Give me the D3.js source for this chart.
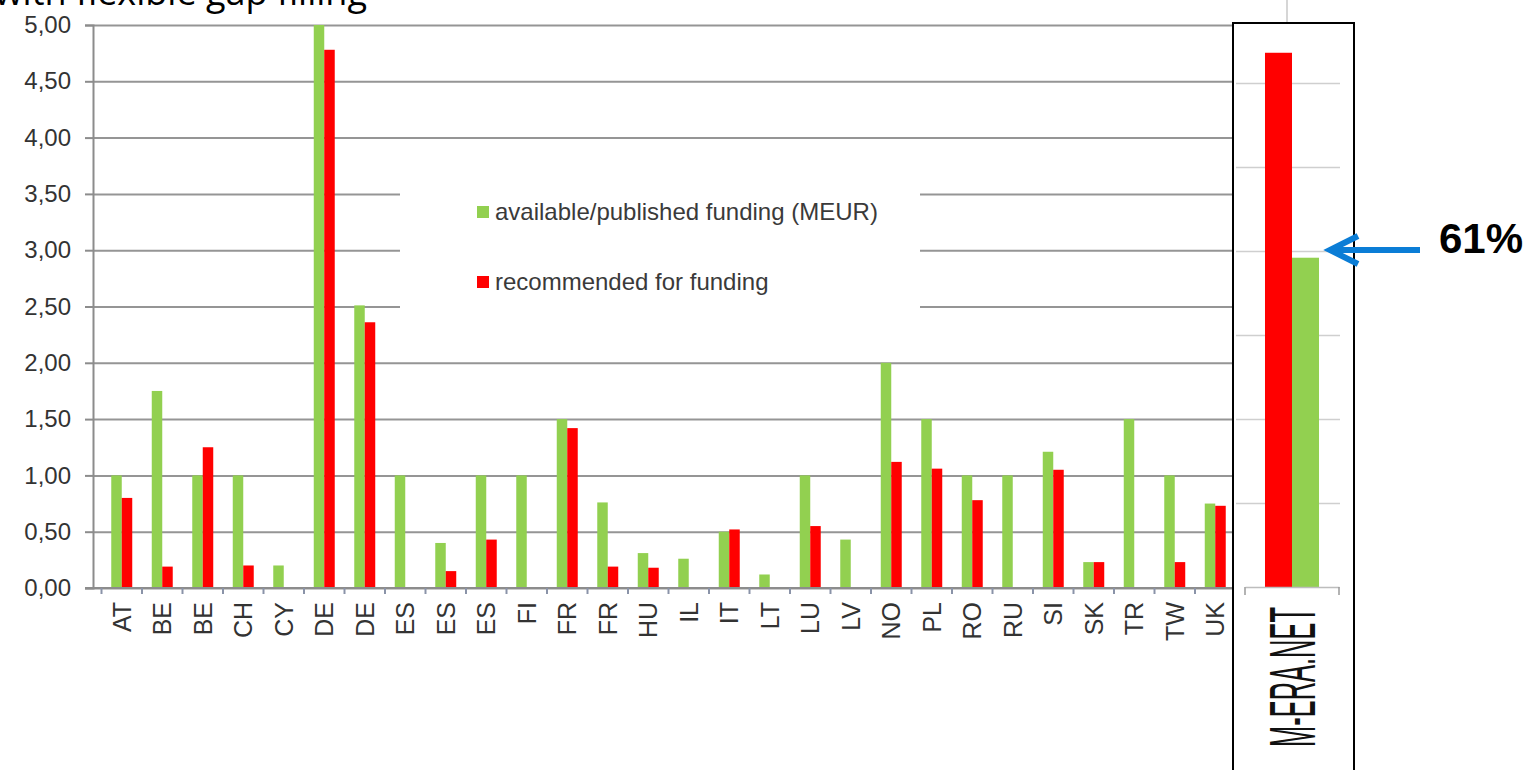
<!DOCTYPE html>
<html>
<head>
<meta charset="utf-8">
<script src="https://d3js.org/d3.v7.min.js"></script>
<style>
    body { margin: 0; background: #fff; }
    svg { display: block; }
</style>
</head>
<body>
<svg id="chart" width="1524" height="770"></svg>
<script>
// data
const countries = ['AT', 'BE', 'BE', 'CH', 'CY', 'DE', 'DE', 'ES', 'ES', 'ES', 'FI', 'FR', 'FR', 'HU',
    'IL', 'IT', 'LT', 'LU', 'LV', 'NO', 'PL', 'RO', 'RU', 'SI', 'SK', 'TR', 'TW', 'UK'];
const available = [1.00, 1.75, 1.00, 1.00, 0.20, 5.00, 2.51, 1.00, 0.40, 1.00, 1.00, 1.50, 0.76, 0.31,
    0.26, 0.50, 0.12, 1.00, 0.43, 2.00, 1.50, 1.00, 1.00, 1.21, 0.23, 1.50, 1.00, 0.75];
const recommended = [0.80, 0.19, 1.25, 0.20, 0, 4.78, 2.36, 0, 0.15, 0.43, 0, 1.42, 0.19, 0.18,
    0, 0.52, 0, 0.55, 0, 1.12, 1.06, 0.78, 0, 1.05, 0.23, 0, 0.23, 0.73];
const yTicks = [0, 0.5, 1, 1.5, 2, 2.5, 3, 3.5, 4, 4.5, 5];
const seriesNames = ['available/published funding (MEUR)', 'recommended for funding'];
const seriesColors = ['#92d050', '#ff0000'];

// M-ERA.NET totals panel (MEUR): first bar red, second green
const totalLabel = 'M-ERA.NET';
const totalValues = [31.8, 19.6];
const totalColors = ['#ff0000', '#92d050'];
const panelTicks = [5, 10, 15, 20, 25, 30];
const shareLabel = '61%';
const titleText = 'with flexible gap filling';

const svg = d3.select('#chart');
const font = "'Liberation Sans', Arial, sans-serif";
const comma = d3.formatLocale({decimal: ',', thousands: '.', grouping: [3], currency: ['', '€']}).format('.2f');

// scales
const plot = {left: 93, right: 1233, top: 25, bottom: 588};
const x = d3.scaleBand().domain(d3.range(countries.length)).range([101.5, 1235.5]);
const x1 = d3.scaleBand().domain([0, 1]).range([0, x.bandwidth()]).paddingOuter(0.93);
const y = d3.scaleLinear().domain([0, 5]).range([plot.bottom, plot.top]);

// title (cut off at the top of the slide)
svg.append('text')
    .attr('x', 367)
    .attr('y', 5)
    .attr('text-anchor', 'end')
    .style('font-family', "'Open Sans', 'Noto Sans', sans-serif")
    .style('font-size', '36px')
    .attr('fill', '#000')
    .text(titleText);

// gridlines
const grid = svg.append('g')
    .attr('transform', 'translate(' + plot.left + ',0)')
    .call(d3.axisLeft(y).tickValues(yTicks).tickSize(-(plot.right - plot.left)).tickFormat(''));
grid.select('.domain').remove();
grid.selectAll('line').attr('stroke', '#959595').attr('stroke-width', 2);

// y axis
const yAxis = svg.append('g')
    .attr('transform', 'translate(' + plot.left + ',0)')
    .call(d3.axisLeft(y).tickValues(yTicks).tickSize(8).tickPadding(14).tickFormat(comma));
yAxis.select('.domain').attr('stroke', '#8c8c8c').attr('stroke-width', 2);
yAxis.selectAll('line').attr('stroke', '#8c8c8c').attr('stroke-width', 2);
yAxis.selectAll('text')
    .style('font-family', font)
    .style('font-size', '24px')
    .attr('fill', '#333');

// legend (white box hides the gridlines behind it)
const legend = svg.append('g');
legend.append('rect')
    .attr('x', 400).attr('y', 165)
    .attr('width', 520).attr('height', 160)
    .attr('fill', '#fff');
seriesNames.forEach(function(name, i) {
    let ly = 212 + i * 70;
    legend.append('rect')
        .attr('x', 477).attr('y', ly - 6)
        .attr('width', 12).attr('height', 12)
        .attr('fill', seriesColors[i]);
    legend.append('text')
        .attr('x', 495).attr('y', ly + 8)
        .style('font-family', font)
        .style('font-size', '24px')
        .attr('fill', '#3a3a3a')
        .text(name);
});

// bars
const series = [available, recommended];
series.forEach(function(values, s) {
    svg.append('g').selectAll('rect')
        .data(values)
        .enter().append('rect')
        .attr('x', function(d, i) { return x(i) + x1(s); })
        .attr('y', function(d) { return y(d); })
        .attr('width', x1.bandwidth())
        .attr('height', function(d) { return y(0) - y(d); })
        .attr('fill', seriesColors[s]);
});

// x axis: baseline, boundary ticks, rotated labels
const xAxis = svg.append('g')
    .attr('transform', 'translate(0,' + plot.bottom + ')')
    .call(d3.axisBottom(x).tickSize(0).tickFormat(function(i) { return countries[i]; }));
xAxis.select('.domain').remove();
xAxis.append('line')
    .attr('x1', 85).attr('x2', plot.right)
    .attr('stroke', '#8c8c8c').attr('stroke-width', 2);
xAxis.selectAll('.boundary')
    .data(d3.range(countries.length))
    .enter().append('line')
    .attr('class', 'boundary')
    .attr('x1', function(i) { return x(i); })
    .attr('x2', function(i) { return x(i); })
    .attr('y1', 0).attr('y2', 6)
    .attr('stroke', '#8a93a8').attr('stroke-width', 2);
xAxis.selectAll('.tick text')
    .attr('transform', 'rotate(-90)')
    .attr('x', -14)
    .attr('y', 0)
    .attr('dy', '0.36em')
    .style('text-anchor', 'end')
    .style('font-family', font)
    .style('font-size', '25px')
    .attr('fill', '#333');

// M-ERA.NET panel
const px = d3.scaleBand().domain([totalLabel]).range([1245, 1339]);
const px1 = d3.scaleBand().domain([0, 1]).range([0, px.bandwidth()]).paddingOuter(0.74);
const py = d3.scaleLinear().domain([0, 35]).range([587, -1]);

svg.append('line')
    .attr('x1', 1287).attr('x2', 1287)
    .attr('y1', 0).attr('y2', 22)
    .attr('stroke', '#c8c8c8').attr('stroke-width', 1.5);

const panel = svg.append('g');
panel.append('rect')
    .attr('x', 1233).attr('y', 23)
    .attr('width', 121).attr('height', 770)
    .attr('fill', '#fff')
    .attr('stroke', '#000')
    .attr('stroke-width', 2);

const pGrid = panel.append('g')
    .attr('transform', 'translate(1236,0)')
    .call(d3.axisLeft(py).tickValues(panelTicks).tickSize(-104).tickFormat(''));
pGrid.select('.domain').remove();
pGrid.selectAll('line').attr('stroke', '#cfcfcf').attr('stroke-width', 1.5);

panel.selectAll('.total')
    .data(totalValues)
    .enter().append('rect')
    .attr('class', 'total')
    .attr('x', function(d, i) { return px(totalLabel) + px1(i); })
    .attr('y', function(d) { return py(d); })
    .attr('width', px1.bandwidth())
    .attr('height', function(d) { return py(0) - py(d); })
    .attr('fill', function(d, i) { return totalColors[i]; });

const pAxis = panel.append('g')
    .attr('transform', 'translate(0,' + py(0) + ')')
    .call(d3.axisBottom(px).tickSize(0));
pAxis.select('.domain').attr('stroke', '#bdbdbd').attr('stroke-width', 1.5);
pAxis.selectAll('.edge')
    .data(px.range())
    .enter().append('line')
    .attr('class', 'edge')
    .attr('x1', function(d) { return d; })
    .attr('x2', function(d) { return d; })
    .attr('y1', 0).attr('y2', 8)
    .attr('stroke', '#9a9a9a').attr('stroke-width', 1.5);
pAxis.selectAll('.tick text')
    .attr('transform', 'rotate(-90)')
    .attr('x', -20)
    .attr('y', 0)
    .attr('dy', '0.36em')
    .attr('textLength', 140)
    .attr('lengthAdjust', 'spacingAndGlyphs')
    .style('text-anchor', 'end')
    .style('font-family', "'Liberation Sans Narrow', " + font)
    .style('font-size', '64px')
    .attr('fill', '#111');

// arrow and share annotation
const arrowY = 250;
svg.append('line')
    .attr('x1', 1420).attr('x2', 1332)
    .attr('y1', arrowY).attr('y2', arrowY)
    .attr('stroke', '#0b7dd6').attr('stroke-width', 6);
svg.append('polyline')
    .attr('points', [[1358, arrowY - 14], [1330, arrowY], [1358, arrowY + 14]].join(' '))
    .attr('fill', 'none')
    .attr('stroke', '#0b7dd6')
    .attr('stroke-width', 6);
svg.append('text')
    .attr('x', 1439)
    .attr('y', 253)
    .style('font-family', font)
    .style('font-size', '42px')
    .style('font-weight', 'bold')
    .attr('fill', '#000')
    .text(shareLabel);
</script>
</body>
</html>
